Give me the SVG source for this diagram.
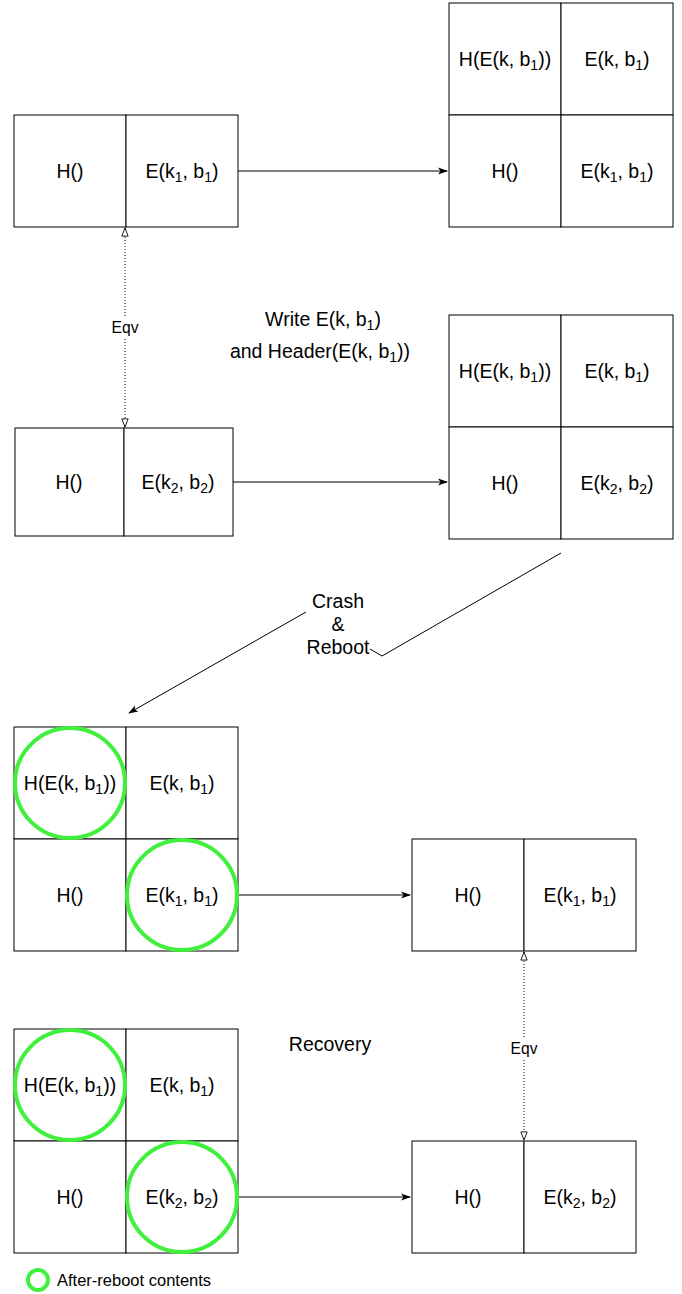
<svg xmlns="http://www.w3.org/2000/svg" width="682" height="1294" viewBox="0 0 682 1294">
<style>
.c{fill:#fff;stroke:#000;stroke-width:1}
.t{font-family:"Liberation Sans",Arial,sans-serif;font-size:19.5px;fill:#000;text-anchor:middle}
.s{font-size:14px}
.e{font-family:"Liberation Sans",Arial,sans-serif;font-size:15.6px;fill:#000;text-anchor:middle}
.g{fill:none;stroke:#40f03c;stroke-width:4}
.a{fill:none;stroke:#000;stroke-width:1}
.d{fill:none;stroke:#000;stroke-width:1;stroke-dasharray:1 2}
</style>
<defs>
<marker id="ar" viewBox="0 0 10 10" refX="9" refY="5" markerWidth="10" markerHeight="10" markerUnits="userSpaceOnUse" orient="auto">
<path d="M0,1.5 L10,5 L0,8.5 L2.5,5 Z" fill="#000"/>
</marker>
<marker id="op" viewBox="0 0 10 10" refX="9.5" refY="5" markerWidth="9" markerHeight="9" markerUnits="userSpaceOnUse" orient="auto">
<path d="M0.5,1.5 L9.5,5 L0.5,8.5 Z" fill="#fff" stroke="#000" stroke-width="1"/>
</marker>
<marker id="ops" viewBox="0 0 10 10" refX="0.5" refY="5" markerWidth="9" markerHeight="9" markerUnits="userSpaceOnUse" orient="auto">
<path d="M9.5,1.5 L0.5,5 L9.5,8.5 Z" fill="#fff" stroke="#000" stroke-width="1"/>
</marker>
</defs>

<g id="connectors">
<path class="a" d="M238,171 L447,171" marker-end="url(#ar)"/>
<path class="a" d="M233,482 L447,482" marker-end="url(#ar)"/>
<path class="a" d="M238,895 L410,895" marker-end="url(#ar)"/>
<path class="a" d="M238,1197 L410,1197" marker-end="url(#ar)"/>
<path class="d" d="M125,228 L125,427" marker-start="url(#ops)" marker-end="url(#op)"/>
<path class="d" d="M524,952 L524,1140" marker-start="url(#ops)" marker-end="url(#op)"/>
<path class="a" d="M561,553 L382,656 L306,612 L129,713" marker-end="url(#ar)"/>
<rect x="306" y="590" width="64" height="67" fill="#fff"/>
<text class="t"><tspan x="338" y="608">Crash</tspan><tspan x="338" y="631">&amp;</tspan><tspan x="338" y="654">Reboot</tspan></text>
<rect x="108" y="317" width="34" height="20" fill="#fff"/>
<text class="e" x="125" y="333">Eqv</text>
<rect x="507" y="1038" width="34" height="20" fill="#fff"/>
<text class="e" x="524" y="1054">Eqv</text>
</g>

<g id="n1">
<rect class="c" x="14" y="115" width="112" height="112"/>
<rect class="c" x="126" y="115" width="112" height="112"/>
<text class="t" x="70" y="178">H()</text>
<text class="t" x="182" y="178">E(k<tspan class="s" dy="4">1</tspan><tspan dy="-4">, b</tspan><tspan class="s" dy="4">1</tspan><tspan dy="-4">)</tspan></text>
</g>

<g id="n2">
<rect class="c" x="449" y="3" width="112" height="112"/>
<rect class="c" x="561" y="3" width="112" height="112"/>
<rect class="c" x="449" y="115" width="112" height="112"/>
<rect class="c" x="561" y="115" width="112" height="112"/>
<text class="t" x="505" y="66">H(E(k, b<tspan class="s" dy="4">1</tspan><tspan dy="-4">))</tspan></text>
<text class="t" x="617" y="66">E(k, b<tspan class="s" dy="4">1</tspan><tspan dy="-4">)</tspan></text>
<text class="t" x="505" y="178">H()</text>
<text class="t" x="617" y="178">E(k<tspan class="s" dy="4">1</tspan><tspan dy="-4">, b</tspan><tspan class="s" dy="4">1</tspan><tspan dy="-4">)</tspan></text>
</g>

<g id="label-write">
<text class="t" x="323" y="326">Write E(k, b<tspan class="s" dy="4">1</tspan><tspan dy="-4">)</tspan></text>
<text class="t" x="320" y="358">and Header(E(k, b<tspan class="s" dy="4">1</tspan><tspan dy="-4">))</tspan></text>
</g>

<g id="n3">
<rect class="c" x="15" y="428" width="109" height="108"/>
<rect class="c" x="124" y="428" width="109" height="108"/>
<text class="t" x="69" y="489">H()</text>
<text class="t" x="178" y="489">E(k<tspan class="s" dy="4">2</tspan><tspan dy="-4">, b</tspan><tspan class="s" dy="4">2</tspan><tspan dy="-4">)</tspan></text>
</g>

<g id="n4">
<rect class="c" x="449" y="315" width="112" height="112"/>
<rect class="c" x="561" y="315" width="112" height="112"/>
<rect class="c" x="449" y="427" width="112" height="112"/>
<rect class="c" x="561" y="427" width="112" height="112"/>
<text class="t" x="505" y="378">H(E(k, b<tspan class="s" dy="4">1</tspan><tspan dy="-4">))</tspan></text>
<text class="t" x="617" y="378">E(k, b<tspan class="s" dy="4">1</tspan><tspan dy="-4">)</tspan></text>
<text class="t" x="505" y="490">H()</text>
<text class="t" x="617" y="490">E(k<tspan class="s" dy="4">2</tspan><tspan dy="-4">, b</tspan><tspan class="s" dy="4">2</tspan><tspan dy="-4">)</tspan></text>
</g>

<g id="n5">
<rect class="c" x="14" y="727" width="112" height="112"/>
<rect class="c" x="126" y="727" width="112" height="112"/>
<rect class="c" x="14" y="839" width="112" height="112"/>
<rect class="c" x="126" y="839" width="112" height="112"/>
<text class="t" x="70" y="790">H(E(k, b<tspan class="s" dy="4">1</tspan><tspan dy="-4">))</tspan></text>
<text class="t" x="182" y="790">E(k, b<tspan class="s" dy="4">1</tspan><tspan dy="-4">)</tspan></text>
<text class="t" x="70" y="902">H()</text>
<text class="t" x="182" y="902">E(k<tspan class="s" dy="4">1</tspan><tspan dy="-4">, b</tspan><tspan class="s" dy="4">1</tspan><tspan dy="-4">)</tspan></text>
<circle class="g" cx="70" cy="783" r="55"/>
<circle class="g" cx="182" cy="895" r="55"/>
</g>

<g id="n6">
<rect class="c" x="412" y="839" width="112" height="112"/>
<rect class="c" x="524" y="839" width="112" height="112"/>
<text class="t" x="468" y="902">H()</text>
<text class="t" x="580" y="902">E(k<tspan class="s" dy="4">1</tspan><tspan dy="-4">, b</tspan><tspan class="s" dy="4">1</tspan><tspan dy="-4">)</tspan></text>
</g>

<g id="label-recovery">
<text class="t" x="330" y="1051">Recovery</text>
</g>

<g id="n7">
<rect class="c" x="14" y="1029" width="112" height="112"/>
<rect class="c" x="126" y="1029" width="112" height="112"/>
<rect class="c" x="14" y="1141" width="112" height="112"/>
<rect class="c" x="126" y="1141" width="112" height="112"/>
<text class="t" x="70" y="1092">H(E(k, b<tspan class="s" dy="4">1</tspan><tspan dy="-4">))</tspan></text>
<text class="t" x="182" y="1092">E(k, b<tspan class="s" dy="4">1</tspan><tspan dy="-4">)</tspan></text>
<text class="t" x="70" y="1204">H()</text>
<text class="t" x="182" y="1204">E(k<tspan class="s" dy="4">2</tspan><tspan dy="-4">, b</tspan><tspan class="s" dy="4">2</tspan><tspan dy="-4">)</tspan></text>
<circle class="g" cx="70" cy="1085" r="55"/>
<circle class="g" cx="182" cy="1197" r="55"/>
</g>

<g id="n8">
<rect class="c" x="412" y="1141" width="112" height="112"/>
<rect class="c" x="524" y="1141" width="112" height="112"/>
<text class="t" x="468" y="1204">H()</text>
<text class="t" x="580" y="1204">E(k<tspan class="s" dy="4">2</tspan><tspan dy="-4">, b</tspan><tspan class="s" dy="4">2</tspan><tspan dy="-4">)</tspan></text>
</g>

<g id="legend">
<circle class="g" cx="38" cy="1280" r="10"/>
<text x="57" y="1286" font-family="'Liberation Sans',Arial,sans-serif" font-size="16.5" fill="#000">After-reboot contents</text>
</g>
</svg>
